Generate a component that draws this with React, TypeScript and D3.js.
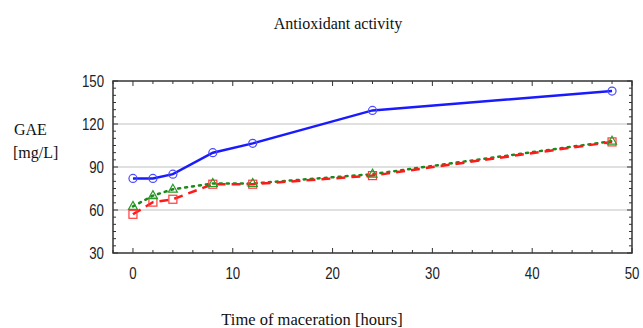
import * as d3 from "d3";

// hours of maceration
const hours = [0, 2, 4, 8, 12, 24, 48];
const blueValues = [82, 82, 85, 100, 106.5, 129.5, 143];
const redValues = [57, 65.5, 67.5, 78, 78, 84, 107.5];
const greenValues = [62.5, 70, 74.5, 78.5, 78.5, 85, 108];
const xTicks = [0, 10, 20, 30, 40, 50];
const yTicks = [30, 60, 90, 120, 150];

const W = 643;
const H = 328;
const margin = { top: 81, right: 11, bottom: 75, left: 113 };

function App() {
  const x = d3.scaleLinear().domain([-2, 50]).range([margin.left, W - margin.right]);
  const y = d3.scaleLinear().domain([30, 150]).range([H - margin.bottom, margin.top]);

  const line = d3
    .line<number>()
    .x((_, i) => x(hours[i]))
    .y((d) => y(d));

  const xMinor = d3.range(-2, 50.1, 2);
  const yMinor = d3.range(30, 150.1, 5);
  const tickFont = "'Liberation Sans', Arial, sans-serif";
  const serif = "'Liberation Serif', 'Times New Roman', serif";
  const x0 = x.range()[0];
  const x1 = x.range()[1];
  const y0 = y.range()[0];
  const y1 = y.range()[1];
  const sx = 0.78; // narrow the tick digits

  return (
    <svg width={W} height={H} style={{ position: "absolute", left: 0, top: 0, background: "#fff" }}>
      <text x={338} y={29} textAnchor="middle" fontFamily={serif} fontSize={16} fill="#111">
        Antioxidant activity
      </text>

      {/* gridlines */}
      {yTicks.slice(1, -1).map((t) => (
        <line key={"g" + t} x1={x0} x2={x1} y1={y(t)} y2={y(t)} stroke="#d6d6d6" strokeWidth={1.5} />
      ))}

      {/* minor ticks, inside, all four sides */}
      {xMinor.map((t) => {
        const major = t % 10 === 0;
        const len = major ? 5 : 3;
        return (
          <g key={"xm" + t} stroke="#333" strokeWidth={1}>
            <line x1={x(t)} x2={x(t)} y1={y0} y2={y0 - len} />
            <line x1={x(t)} x2={x(t)} y1={y1} y2={y1 + len} />
          </g>
        );
      })}
      {yMinor.map((t) => {
        const major = t % 30 === 0;
        const len = major ? 5 : 3;
        return (
          <g key={"ym" + t} stroke="#333" strokeWidth={1}>
            <line x1={x0} x2={x0 + len} y1={y(t)} y2={y(t)} />
            <line x1={x1} x2={x1 - len} y1={y(t)} y2={y(t)} />
          </g>
        );
      })}

      <rect x={x0} y={y1} width={x1 - x0} height={y0 - y1} fill="none" stroke="#333" strokeWidth={1.5} />

      {/* tick labels */}
      {xTicks.map((t) => (
        <text
          key={"xl" + t}
          transform={`translate(${x(t)},279) scale(${sx},1)`}
          textAnchor="middle"
          fontFamily={tickFont}
          fontSize={17}
          fill="#222"
        >
          {t}
        </text>
      ))}
      {yTicks.map((t) => (
        <text
          key={"yl" + t}
          transform={`translate(104,${y(t) + 6}) scale(${sx},1)`}
          textAnchor="end"
          fontFamily={tickFont}
          fontSize={17}
          fill="#222"
        >
          {t}
        </text>
      ))}

      {/* axis titles */}
      <text x={14} y={135} fontFamily={serif} fontSize={16} fill="#111">GAE</text>
      <text x={13} y={158} fontFamily={serif} fontSize={16} fill="#111">[mg/L]</text>
      <text x={312} y={325} textAnchor="middle" fontFamily={serif} fontSize={16.5} fill="#111">
        Time of maceration [hours]
      </text>

      {/* series */}
      <path d={line(greenValues) ?? ""} fill="none" stroke="#1a8a1a" strokeWidth={2.5} strokeDasharray="2 5" strokeLinecap="round" />
      <path d={line(redValues) ?? ""} fill="none" stroke="#ff1a1a" strokeWidth={2.5} strokeDasharray="9 6" />
      <path d={line(blueValues) ?? ""} fill="none" stroke="#1a1aff" strokeWidth={2.5} />

      {redValues.map((v, i) => (
        <rect key={"r" + i} x={x(hours[i]) - 4} y={y(v) - 4} width={8} height={8} fill="none" stroke="#ff3b3b" strokeWidth={1.2} />
      ))}
      {greenValues.map((v, i) => {
        const cx = x(hours[i]);
        const cy = y(v);
        return (
          <path key={"gr" + i} d={`M${cx},${cy - 5}L${cx + 4.5},${cy + 3}L${cx - 4.5},${cy + 3}Z`} fill="none" stroke="#2a9a2a" strokeWidth={1.2} />
        );
      })}
      {blueValues.map((v, i) => (
        <circle key={"b" + i} cx={x(hours[i])} cy={y(v)} r={4} fill="none" stroke="#4a4aff" strokeWidth={1.2} />
      ))}
    </svg>
  );
}

export default App;
